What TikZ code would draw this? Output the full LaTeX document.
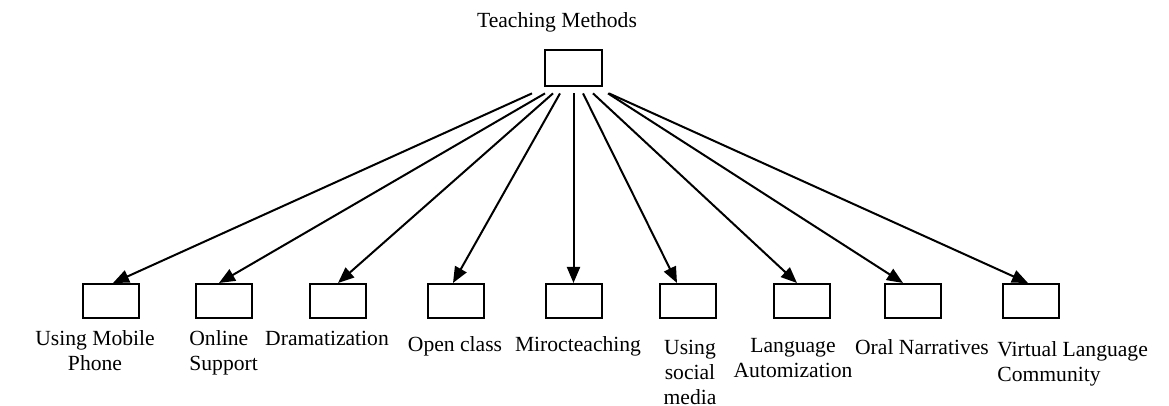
\documentclass[tikz,border=0pt]{standalone}
\usepackage{fontspec}
\setmainfont{Liberation Serif}
\usetikzlibrary{arrows.meta}
\begin{document}
\begin{tikzpicture}[x=0.5pt,y=-0.5pt,
  box/.style={draw,line width=1pt,minimum width=28pt,minimum height=17pt,inner sep=0pt},
  lbl/.style={inner sep=0pt,font=\fontsize{10.8}{12.3}\selectfont},
  conn/.style={line width=1pt,-{Triangle[length=8pt,width=6.5pt]}}]
\useasboundingbox[fill=white] (0,0) rectangle (1169,406);

% title and root box
\node[lbl,anchor=base] (title) at (557,28) {Teaching Methods};
\node[box,minimum width=28.5pt,minimum height=18pt] (top) at (573.5,68) {};

% child boxes
\node[box] (b1) at (110.5,301) {};
\node[box] (b2) at (224,301) {};
\node[box] (b3) at (337.5,301) {};
\node[box] (b4) at (456,301) {};
\node[box] (b5) at (573.5,301) {};
\node[box] (b6) at (688,301) {};
\node[box] (b7) at (801.5,301) {};
\node[box] (b8) at (913,301) {};
\node[box] (b9) at (1031,301) {};

% labels
\node[lbl,anchor=base] (l1) at (95,346) {\begin{tabular}[t]{@{}c@{}}Using Mobile\\Phone\end{tabular}};
\node[lbl,anchor=base west] (l2) at (189,346) {\begin{tabular}[t]{@{}l@{}}Online\\Support\end{tabular}};
\node[lbl,anchor=base] (l3) at (327,346) {Dramatization};
\node[lbl,anchor=base] (l4) at (455,352) {Open class};
\node[lbl,anchor=base] (l5) at (578,352) {Mirocteaching};
\node[lbl,anchor=base] (l6) at (690,355) {\begin{tabular}[t]{@{}c@{}}Using\\social\\media\end{tabular}};
\node[lbl,anchor=base] (l7) at (793,353) {\begin{tabular}[t]{@{}c@{}}Language\\Automization\end{tabular}};
\node[lbl,anchor=base] (l8) at (922,355) {Oral Narratives};
\node[lbl,anchor=base west] (l9) at (997,357) {\begin{tabular}[t]{@{}l@{}}Virtual Language\\Community\end{tabular}};

% connectors
\draw[conn] ([xshift=-20.75pt,yshift=-3.2pt]top.south) -- ([xshift=1.25pt]b1.north);
\draw[conn] ([xshift=-14.25pt,yshift=-3.2pt]top.south) -- ([xshift=-2.5pt]b2.north);
\draw[conn] ([xshift=-10.25pt,yshift=-3.2pt]top.south) -- ([xshift=0.25pt]b3.north);
\draw[conn] ([xshift=-6.75pt,yshift=-3.2pt]top.south) -- ([xshift=-1.5pt]b4.north);
\draw[conn] ([yshift=-3.2pt]top.south) -- (b5.north);
\draw[conn] ([xshift=4.75pt,yshift=-3.2pt]top.south) -- ([xshift=-5.5pt]b6.north);
\draw[conn] ([xshift=9.75pt,yshift=-3.2pt]top.south) -- ([xshift=-2.25pt]b7.north);
\draw[conn] ([xshift=17.25pt,yshift=-3.2pt]top.south) -- ([xshift=-5pt]b8.north);
\draw[conn] ([xshift=17.75pt,yshift=-3.2pt]top.south) -- ([xshift=-1.5pt]b9.north);
\end{tikzpicture}
\end{document}
